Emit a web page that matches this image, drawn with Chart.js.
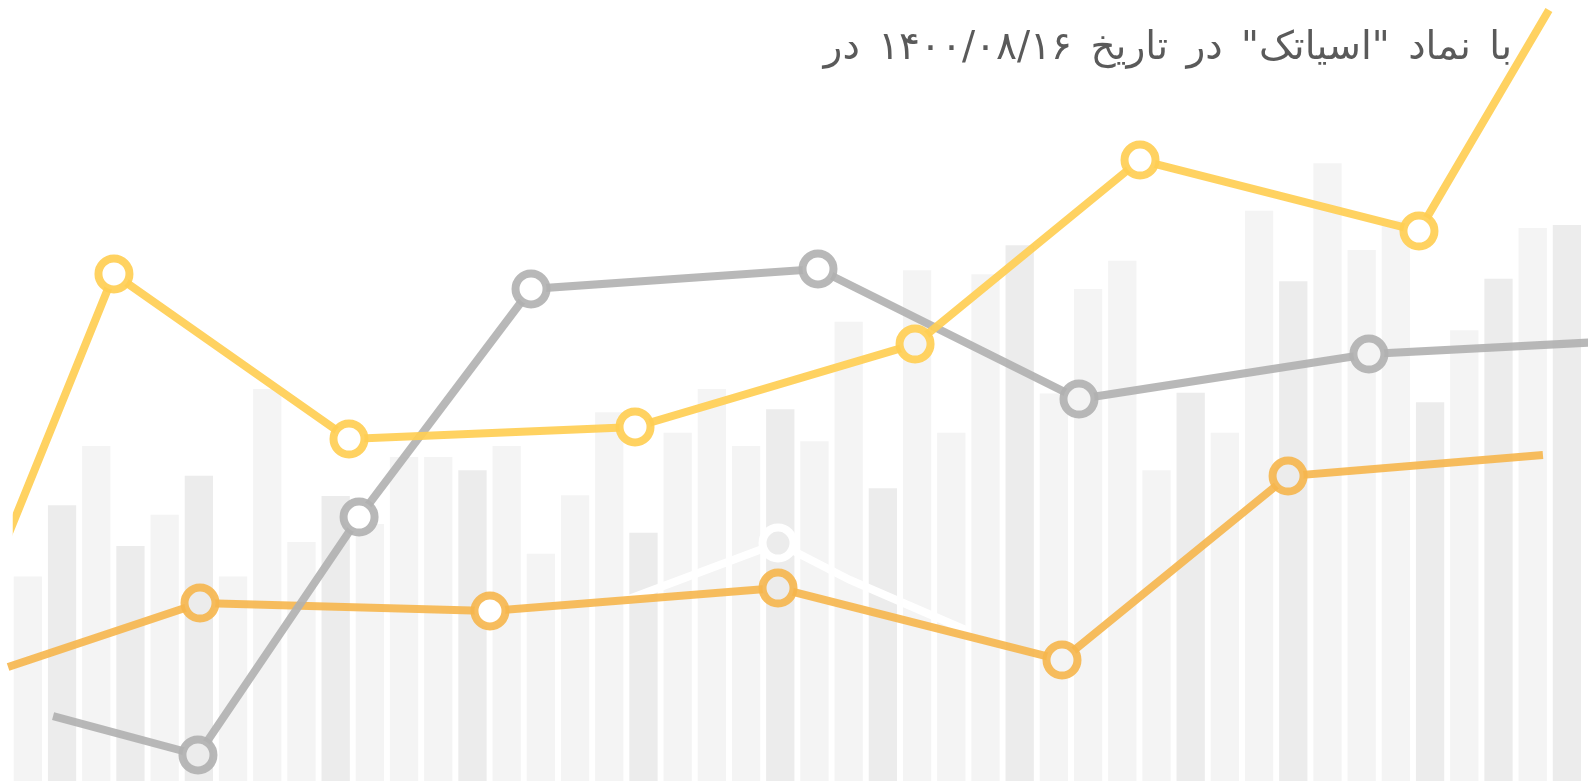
<!DOCTYPE html>
<html lang="fa">
<head>
<meta charset="utf-8">
<title>اسیاتک</title>
<script src="https://cdn.jsdelivr.net/npm/chart.js@4.4.1/dist/chart.umd.min.js"></script>
<style>
  html, body { margin: 0; padding: 0; background: #fff; }
  #wrap { position: relative; width: 1588px; height: 781px; overflow: hidden; }
  #caption {
    position: absolute; right: 76px; top: 18px;
    direction: rtl; text-align: right; white-space: nowrap;
    font-family: "DejaVu Sans", sans-serif; font-size: 39px; line-height: 56px;
    word-spacing: 6px;
    color: #5a5a5a; z-index: 2;
  }
</style>
</head>
<body>
<div id="wrap">
  <canvas id="chart"></canvas>
  <div id="caption">با نماد "اسیاتک" در تاریخ ۱۴۰۰/۰۸/۱۶ در</div>
</div>

<script>
/*------------- داده ها: ستون های پس زمینه -------------*/

// 46 ستون، مقدار از 0 تا 100
const barLabels = Array.from({ length: 46 }, (_, i) => String(i + 1));
const barValues = [
  26.2, 35.3, 42.9, 30.1, 34.1, 39.1, 26.2, 50.2, 30.6, 36.5,
  32.9, 41.5, 41.5, 39.8, 42.9, 29.1, 36.6, 47.2, 31.8, 44.6,
  50.2, 42.9, 47.6, 43.5, 58.8, 37.5, 65.4, 44.6, 64.9, 68.6,
  49.6, 63.0, 66.6, 39.8, 49.7, 44.6, 73.0, 64.0, 79.1, 68.0,
  71.8, 48.5, 57.7, 64.3, 70.8, 71.2
];
// کدام ستون ها تیره تر هستند (1 = تیره)
const barDark = [
  0, 1, 0, 1, 0, 1, 0, 0, 0, 1,
  0, 0, 0, 1, 0, 0, 0, 0, 1, 0,
  0, 0, 1, 0, 0, 1, 0, 0, 0, 1,
  0, 0, 0, 0, 1, 0, 0, 1, 0, 0,
  0, 1, 0, 1, 0, 1
];

/*------------- داده ها: خط ها (x از 0 تا 100) -------------*/

const yellowX = [-0.37, 6.56, 21.50, 39.68, 57.48, 71.78, 89.51, 97.77];
const yellowY = [30.47, 64.92, 43.79, 45.33, 55.95, 79.51, 70.42, 98.72];

const grayX = [2.69, 11.90, 22.14, 33.07, 51.31, 67.90, 86.33, 101.02];
const grayY = [8.32, 3.33, 33.80, 63.00, 65.56, 48.91, 54.67, 56.21];

const orangeX = [-0.17, 12.03, 30.46, 48.77, 66.82, 81.19, 97.39];
const orangeY = [14.60, 22.79, 21.77, 24.71, 15.49, 39.05, 41.74];

const whiteX = [39.11, 48.77, 53.34, 60.85];
const whiteY = [23.18, 30.47, 25.74, 19.21];

/*------------- کمکی ها -------------*/

function toPoints(xs, ys) {
  return xs.map((x, i) => ({ x: x, y: ys[i] }));
}

// فقط نقاط میانی دایره دارند
function radii(n, keep) {
  return Array.from({ length: n }, (_, i) => keep(i, n) ? 15.5 : 0);
}
const inner = (i, n) => i > 0 && i < n - 1;

// رنگ داخل دایره = رنگ ستونی که زیرش است
function fillUnder(ctx) {
  if (!ctx.parsed) return '#fff';
  const chart = ctx.chart;
  const px = chart.scales.xl.getPixelForValue(ctx.parsed.x);
  const py = chart.scales.y.getPixelForValue(ctx.parsed.y);
  const bars = chart.getDatasetMeta(0).data;
  for (const b of bars) {
    if (px >= b.x - b.width / 2 && px <= b.x + b.width / 2 && py >= b.y) {
      return b.options.backgroundColor;
    }
  }
  return '#fff';
}

function lineSet(points, color, order, r, clip) {
  return {
    type: 'line',
    data: points,
    xAxisID: 'xl',
    yAxisID: 'y',
    borderColor: color,
    borderWidth: 8,
    tension: 0,
    pointRadius: r,
    pointBorderColor: color,
    pointBorderWidth: 8,
    pointBackgroundColor: fillUnder,
    order: order,
    clip: clip
  };
}

const yellow = 'rgba(255, 206, 84, 0.92)';
const orange = 'rgba(246, 182, 76, 0.9)';
const gray = 'rgba(176, 176, 176, 0.9)';

const yPts = toPoints(yellowX, yellowY);
const gPts = toPoints(grayX, grayY);
const oPts = toPoints(orangeX, orangeY);
const wPts = toPoints(whiteX, whiteY);

new Chart(document.getElementById('chart'), {
  type: 'bar',
  data: {
    labels: barLabels,
    datasets: [
      {
        data: barValues,
        backgroundColor: barDark.map(d => d ? '#ececec' : '#f4f4f4'),
        barPercentage: 0.827,
        categoryPercentage: 1.0,
        grouped: false,
        xAxisID: 'x',
        yAxisID: 'y',
        order: 10
      },
      lineSet(wPts, '#ffffff', 4, wPts.map((_, i) => i === 1 ? 15.5 : 0), false),
      lineSet(oPts, orange, 3, radii(oPts.length, inner), false),
      lineSet(gPts, gray, 2, radii(gPts.length, inner), false),
      lineSet(yPts, yellow, 1, radii(yPts.length, inner), { left: -2, right: 0, top: 0, bottom: 0 })
    ]
  },
  options: {
    responsive: true,
    maintainAspectRatio: false,
    animation: false,
    events: [],
    layout: { padding: { left: 10.75, right: 4, top: 0, bottom: 0 } },
    plugins: { legend: { display: false }, tooltip: { enabled: false }, title: { display: false } },
    scales: {
      x: { type: 'category', display: false, offset: true, grid: { display: false } },
      xl: { type: 'linear', display: false, offset: false, min: 0, max: 100 },
      y: { display: false, min: 0, max: 100 }
    }
  }
});
</script>
</body>
</html>
